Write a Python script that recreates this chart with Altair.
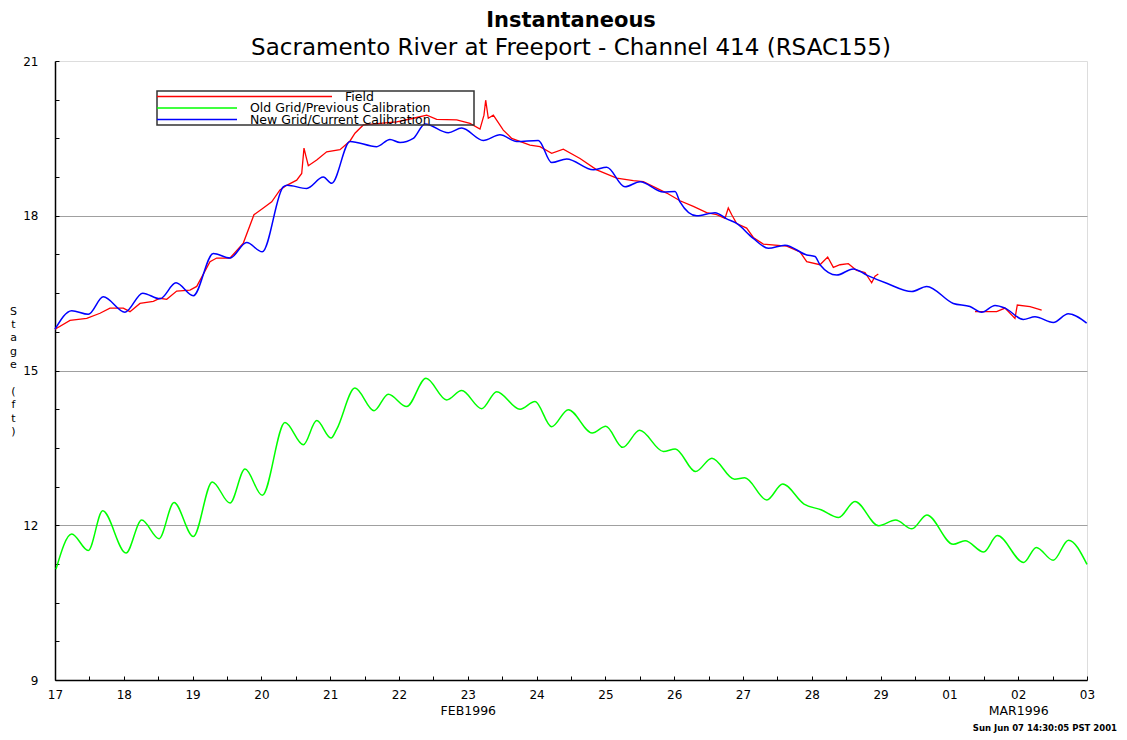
import altair as alt
import pandas as pd

FONT = "DejaVu Sans"
TITLE = "Instantaneous"
SUBTITLE = "Sacramento River at Freeport - Channel 414 (RSAC155)"
Y_TITLE = ["S", "t", "a", "g", "e", "\u2800", "(", "f", "t", ")"]
STAMP = "Sun Jun 07 14:30:05 PST 2001"
SERIES = ["Field", "Old Grid/Previous Calibration", "New Grid/Current Calibration"]
COLORS = ["#ff0000", "#00ff00", "#0000ff"]
START = "1996-02-17"

# x-axis tick labels (month, day)
DAY_LABELS = [(2, d) for d in range(17, 30)] + [(3, d) for d in range(1, 4)]
MONTH_LABELS = [(2, 23), (3, 2)]
Y_LABELS = [9, 12, 15, 18, 21]
Y_GRID = [12, 15, 18]
Y_TICKS = [9.0, 9.75, 10.5, 11.25, 12.0, 12.75, 13.5, 14.25, 15.0,
           15.75, 16.5, 17.25, 18.0, 18.75, 19.5, 20.25, 21.0]

# days since 17 Feb 1996 00:00, stage in ft
old_days = [0.015, 0.243, 0.484, 0.693, 1.032, 1.260, 1.512, 1.730, 2.010, 2.286,
            2.544, 2.762, 3.013, 3.343, 3.609, 3.804, 4.012, 4.094, 4.360, 4.637,
            4.844, 5.112, 5.392, 5.693, 5.911, 6.202, 6.420, 6.759, 6.977, 7.219,
            7.461, 7.808, 8.006, 8.251, 8.498, 8.843, 9.016, 9.311, 9.548, 9.878,
            10.025, 10.346, 10.577, 10.887, 11.134, 11.390, 11.627, 11.971, 12.218, 12.455,
            12.672, 13.055, 13.228, 13.499, 13.696, 14.080, 14.263, 14.509, 14.731, 15.000]
old_stage = [11.15, 11.83, 11.51, 12.28, 11.46, 12.10, 11.74, 12.44, 11.78, 12.84,
             12.43, 13.09, 12.58, 13.99, 13.56, 14.03, 13.69, 13.86, 14.66, 14.22,
             14.54, 14.30, 14.85, 14.43, 14.61, 14.26, 14.59, 14.25, 14.40, 13.91,
             14.24, 13.79, 13.92, 13.51, 13.84, 13.43, 13.48, 13.04, 13.30, 12.89,
             12.92, 12.49, 12.80, 12.41, 12.30, 12.15, 12.46, 11.99, 12.10, 11.93,
             12.20, 11.63, 11.70, 11.48, 11.80, 11.28, 11.57, 11.32, 11.71, 11.24]

new_days = [0.000, 0.243, 0.484, 0.702, 1.017, 1.275, 1.526, 1.759, 2.010, 2.301,
            2.544, 2.786, 3.013, 3.318, 3.376, 3.658, 3.900, 4.022, 4.288, 4.676,
            4.869, 5.015, 5.208, 5.378, 5.717, 5.911, 6.225, 6.468, 6.711, 7.025,
            7.219, 7.437, 7.824, 8.019, 8.285, 8.503, 8.842, 9.012, 9.084, 9.327,
            9.593, 9.763, 9.908, 10.150, 10.368, 10.610, 10.926, 11.047, 11.119, 11.362,
            11.603, 11.798, 12.089, 12.452, 12.670, 13.057, 13.299, 13.469, 13.663, 13.808,
            14.074, 14.244, 14.510, 14.728, 14.995]
new_stage = [15.80, 16.16, 16.09, 16.43, 16.13, 16.50, 16.39, 16.70, 16.45, 17.27,
             17.18, 17.48, 17.30, 18.56, 18.59, 18.53, 18.75, 18.63, 19.44, 19.34,
             19.48, 19.42, 19.50, 19.78, 19.61, 19.70, 19.46, 19.57, 19.44, 19.46,
             19.03, 19.10, 18.89, 18.94, 18.56, 18.66, 18.46, 18.47, 18.27, 18.00,
             18.06, 17.94, 17.85, 17.56, 17.37, 17.43, 17.24, 17.21, 17.05, 16.85,
             16.97, 16.85, 16.69, 16.53, 16.63, 16.30, 16.24, 16.13, 16.26, 16.21,
             15.99, 16.04, 15.93, 16.10, 15.92]

field_days_a = [0.000, 0.218, 0.461, 0.654, 0.799, 0.993, 1.090, 1.235, 1.429, 1.526,
                1.624, 1.769, 1.962, 2.060, 2.253, 2.350, 2.544, 2.737, 2.892, 3.028,
                3.150, 3.270, 3.368, 3.513, 3.586, 3.619, 3.648, 3.682, 3.804, 3.949,
                4.142, 4.288, 4.360, 4.481, 4.724, 4.967, 5.208, 5.403, 5.548, 5.839,
                6.032, 6.177, 6.235, 6.260, 6.298, 6.371, 6.516, 6.638, 6.904, 7.049,
                7.219, 7.388, 7.631, 7.874, 8.164, 8.406, 8.551, 8.891, 9.084, 9.278,
                9.472, 9.618, 9.738, 9.786, 9.836, 9.908, 10.053, 10.150, 10.295, 10.635,
                10.828, 10.926, 11.119, 11.231, 11.313, 11.410, 11.531, 11.652, 11.773, 11.870,
                11.919, 11.967]
field_stage_a = [15.80, 15.97, 16.01, 16.11, 16.21, 16.21, 16.14, 16.30, 16.34, 16.40,
                 16.38, 16.54, 16.56, 16.63, 17.11, 17.18, 17.18, 17.47, 18.02, 18.15,
                 18.27, 18.50, 18.59, 18.69, 18.82, 19.31, 19.15, 18.97, 19.08, 19.24,
                 19.28, 19.45, 19.60, 19.76, 19.79, 19.82, 19.89, 19.95, 19.87, 19.86,
                 19.79, 19.68, 19.95, 20.24, 19.89, 19.95, 19.66, 19.50, 19.37, 19.34,
                 19.21, 19.29, 19.11, 18.89, 18.73, 18.68, 18.66, 18.44, 18.29, 18.18,
                 18.06, 18.02, 17.95, 18.15, 18.02, 17.85, 17.76, 17.58, 17.45, 17.41,
                 17.30, 17.11, 17.05, 17.20, 17.00, 17.05, 17.07, 16.94, 16.90, 16.70,
                 16.83, 16.87]
field_days_b = [13.372, 13.687, 13.808, 13.953, 13.987, 14.172, 14.341]
field_stage_b = [16.14, 16.14, 16.21, 16.01, 16.27, 16.24, 16.17]


def frame(days, stage, name, seg):
    t = pd.Timestamp(START) + pd.to_timedelta(days, unit="D")
    return pd.DataFrame({"time": t, "stage": stage, "series": name, "seg": seg})


df_old = frame(old_days, old_stage, SERIES[1], 0)
df_new = frame(new_days, new_stage, SERIES[2], 0)
df_field = pd.concat([frame(field_days_a, field_stage_a, SERIES[0], 0),
                      frame(field_days_b, field_stage_b, SERIES[0], 1)])
df_legend = pd.DataFrame({"series": SERIES})


def dt(m, d, h=0):
    return alt.DateTime(year=1996, month=m, date=d, hours=h)


day_vals = [dt(m, d) for m, d in DAY_LABELS]
half_vals = []
for m, d in DAY_LABELS:
    half_vals.append(dt(m, d))
    if (m, d) != DAY_LABELS[-1]:
        half_vals.append(dt(m, d, 12))
month_vals = [dt(m, d) for m, d in MONTH_LABELS]

xscale = alt.Scale(domain=[dt(2, 17), dt(3, 3)], nice=False)
yscale = alt.Scale(domain=[9, 21], nice=False, zero=False)
cscale = alt.Scale(domain=SERIES, range=COLORS)
color = alt.Color("series:N", scale=cscale, legend=None)

x_main = alt.Axis(values=day_vals, format="%d", title=None, orient="bottom",
                  ticks=False, grid=False, domainColor="black", domainWidth=1.5,
                  labelFont=FONT, labelFontSize=12, labelColor="black",
                  labelPadding=9, labelFlush=False, labelOverlap=False, labelBound=False)
y_main = alt.Axis(values=Y_LABELS, orient="left", ticks=False, grid=False,
                  domainColor="black", domainWidth=1.5,
                  labelFont=FONT, labelFontSize=12, labelColor="black",
                  labelPadding=17, labelFlush=False, labelOverlap=False,
                  title=Y_TITLE, titleAngle=0, titleFont=FONT, titleFontSize=11,
                  titleFontWeight="normal", titleColor="black", titleLineHeight=13.4,
                  titleAlign="center", titleBaseline="top", titleX=-42, titleY=244)
x_ticks = alt.Axis(values=half_vals, orient="bottom", labels=False, domain=False,
                   grid=False, ticks=True, tickSize=4, tickColor="black", tickWidth=1,
                   offset=-4, title=None)
y_ticks = alt.Axis(values=Y_TICKS, orient="left", labels=False, domain=False,
                   grid=False, ticks=True, tickSize=4, tickColor="black", tickWidth=1,
                   offset=-4, title=None)
x_month = alt.Axis(values=month_vals, orient="bottom", ticks=False, domain=False,
                   grid=False, title=None,
                   labelExpr="month(datum.value) == 1 ? 'FEB1996' : 'MAR1996'",
                   labelFont=FONT, labelFontSize=12.5, labelColor="black",
                   labelPadding=24, labelFlush=False, labelOverlap=False)
y_grid = alt.Axis(values=Y_GRID, orient="left", labels=False, ticks=False,
                  domain=False, grid=True, gridColor="#a0a0a0", gridWidth=1, title=None)

old_line = alt.Chart(df_old).mark_line(interpolate="monotone", strokeWidth=1.5).encode(
    x=alt.X("time:T", scale=xscale, axis=x_main),
    y=alt.Y("stage:Q", scale=yscale, axis=y_main),
    color=color,
)
field_line = alt.Chart(df_field).mark_line(strokeWidth=1.3).encode(
    x=alt.X("time:T", scale=xscale, axis=x_month),
    y=alt.Y("stage:Q", scale=yscale, axis=y_grid),
    color=color,
    detail="seg:N",
)
new_line = alt.Chart(df_new).mark_line(interpolate="monotone", strokeWidth=1.5).encode(
    x=alt.X("time:T", scale=xscale, axis=x_ticks),
    y=alt.Y("stage:Q", scale=yscale, axis=y_ticks),
    color=color,
)

# legend box drawn with the library: rows placed by a point scale
row = alt.Y("series:N", axis=None,
            scale=alt.Scale(type="point", domain=SERIES, range=[35.5, 58.5], padding=0))
leg_base = alt.Chart(df_legend)
leg_box = alt.Chart(df_legend.head(1)).mark_rect(
    fillOpacity=0, stroke="#333333", strokeWidth=1.5
).encode(x=alt.value(102), x2=alt.value(419), y=alt.value(30), y2=alt.value(64))
leg_line_field = leg_base.transform_filter(alt.datum.series == SERIES[0]).mark_rule(
    strokeWidth=1.3).encode(x=alt.value(102), x2=alt.value(277), y=row, color=color)
leg_line_other = leg_base.transform_filter(alt.datum.series != SERIES[0]).mark_rule(
    strokeWidth=1.5).encode(x=alt.value(102), x2=alt.value(182), y=row, color=color)
leg_text_field = leg_base.transform_filter(alt.datum.series == SERIES[0]).mark_text(
    align="left", baseline="middle", font=FONT, fontSize=12.5, color="black"
).encode(x=alt.value(290), y=row, text="series:N")
leg_text_other = leg_base.transform_filter(alt.datum.series != SERIES[0]).mark_text(
    align="left", baseline="middle", font=FONT, fontSize=12.5, color="black"
).encode(x=alt.value(195), y=row, text="series:N")

stamp = alt.Chart(pd.DataFrame({"t": [STAMP]})).mark_text(
    align="right", baseline="middle", font=FONT, fontSize=8.5, fontWeight="bold",
    color="black",
).encode(text="t:N", x=alt.value(1062), y=alt.value(667))

chart = (
    alt.layer(old_line, field_line, new_line,
              leg_box, leg_line_field, leg_line_other, leg_text_field, leg_text_other,
              stamp)
    .resolve_scale(y="independent")
    .resolve_axis(x="independent", y="independent")
    .properties(
        width=1032,
        height=619,
        autosize=alt.AutoSizeParams(type="none"),
        padding={"left": 47, "top": 53, "right": 32, "bottom": 58},
        title=alt.TitleParams(
            text=TITLE, subtitle=SUBTITLE, anchor="middle", frame="group",
            font=FONT, fontSize=21, fontWeight="bold", color="black",
            subtitleFont=FONT, subtitleFontSize=23, subtitleColor="black",
            subtitlePadding=6, offset=-5,
        ),
    )
    .configure_view(stroke="black", strokeWidth=1)
    .configure(background="white")
)

chart.save("out.html", embed_options={"renderer": "svg", "actions": False})
